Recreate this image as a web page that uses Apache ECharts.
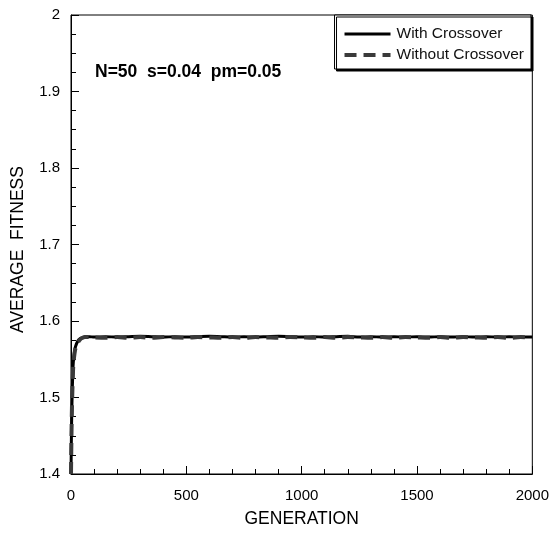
<!DOCTYPE html>
<html>
<head>
<meta charset="utf-8">
<title>Average fitness</title>
<script src="https://cdn.jsdelivr.net/npm/echarts@6/dist/echarts.min.js"></script>
<style>
  html, body { margin: 0; padding: 0; background: #fff; }
  #chart { width: 552px; height: 533px; }
</style>
</head>
<body>
<div id="chart"></div>
<script>
  var generations = [0, 2, 4, 6, 8, 10, 15, 20, 30, 40, 50, 60, 80, 100,
    150, 200, 250, 300, 350, 400, 450, 500, 550, 600, 650, 700, 750, 800, 850, 900, 950, 1000,
    1050, 1100, 1150, 1200, 1250, 1300, 1350, 1400, 1450, 1500, 1550, 1600, 1650, 1700, 1750,
    1800, 1850, 1900, 1950, 2000]

  var withCrossover = [1.400, 1.455, 1.490, 1.515, 1.533, 1.546, 1.560, 1.567, 1.574, 1.577, 1.578, 1.579, 1.5795, 1.5790,
    1.5795, 1.5790, 1.5795, 1.5800, 1.5795, 1.5790, 1.5795, 1.5790, 1.5795, 1.5800, 1.5795, 1.5790, 1.5795, 1.5790, 1.5795, 1.5800, 1.5795, 1.5790,
    1.5795, 1.5790, 1.5795, 1.5800, 1.5790, 1.5795, 1.5790, 1.5795, 1.5790, 1.5795, 1.5790, 1.5795, 1.5790, 1.5795, 1.5790,
    1.5795, 1.5790, 1.5795, 1.5790, 1.5790]

  var withoutCrossover = [1.400, 1.450, 1.485, 1.510, 1.528, 1.542, 1.557, 1.565, 1.572, 1.576, 1.578, 1.579, 1.5790, 1.5785,
    1.5780, 1.5790, 1.5780, 1.5790, 1.5780, 1.5790, 1.5785, 1.5780, 1.5790, 1.5785, 1.5780, 1.5790, 1.5780, 1.5790, 1.5785, 1.5780, 1.5790, 1.5785,
    1.5780, 1.5790, 1.5780, 1.5790, 1.5785, 1.5780, 1.5790, 1.5780, 1.5790, 1.5785, 1.5780, 1.5790, 1.5780, 1.5790, 1.5785,
    1.5780, 1.5790, 1.5780, 1.5790, 1.5785]

  var seriesNames = ['With Crossover', 'Without Crossover']
  var annotation = 'N=50  s=0.04  pm=0.05'

  function pairs(values) {
    return generations.map(function (g, i) { return [g, values[i]] })
  }

  var font = 'Liberation Sans, Arial, sans-serif'
  var chart = echarts.init(document.getElementById('chart'))

  chart.setOption({
    animation: false,
    textStyle: { fontFamily: font, color: '#000' },
    grid: {
      left: 71, top: 15, right: 18, bottom: 55,
      show: true, borderColor: '#000', borderWidth: 1
    },
    legend: {
      data: [
        { name: seriesNames[0], lineStyle: { width: 3, color: '#000' } },
        { name: seriesNames[1], lineStyle: { width: 4, color: '#3a3a3a', type: [12, 7] } }
      ],
      orient: 'vertical',
      right: 21, top: 15,
      padding: [11, 7, 6, 8],
      itemGap: 5,
      itemWidth: 46,
      itemHeight: 14,
      backgroundColor: '#fff',
      borderColor: '#000',
      borderWidth: 1,
      borderRadius: 0,
      shadowColor: '#000',
      shadowBlur: 0,
      shadowOffsetX: 2,
      shadowOffsetY: 2,
      itemStyle: { opacity: 0 }, // hide the circle, keep the line sample
      textStyle: { fontFamily: font, fontSize: 15.5, color: '#111', padding: [0, 0, 0, 1] }
    },
    graphic: [{
      type: 'text',
      left: 95, top: 63,
      style: { text: annotation, font: 'bold 17.5px ' + font, fill: '#000' }
    }],
    xAxis: {
      type: 'value',
      min: 0, max: 2000, interval: 500,
      name: 'GENERATION',
      nameLocation: 'middle',
      nameGap: 36,
      nameTextStyle: { fontSize: 17.5, color: '#000' },
      axisLine: { lineStyle: { color: '#000', width: 1 } },
      axisTick: { inside: true, length: 8, lineStyle: { color: '#000' } },
      minorTick: { show: true, splitNumber: 5, length: 5, lineStyle: { color: '#000' } },
      axisLabel: { fontSize: 15, color: '#000', margin: 14, formatter: function (v) { return String(v) } },
      splitLine: { show: false }
    },
    yAxis: {
      type: 'value',
      min: 1.4, max: 2, interval: 0.1,
      name: 'AVERAGE  FITNESS',
      nameLocation: 'middle',
      nameGap: 44,
      nameTextStyle: { fontSize: 17.5, color: '#000', padding: [0, 10, 0, 0] },
      axisLine: { show: true, lineStyle: { color: '#000', width: 1 } },
      axisTick: { inside: true, length: 8, lineStyle: { color: '#000' } },
      minorTick: { show: true, splitNumber: 4, length: 5, lineStyle: { color: '#000' } },
      axisLabel: { fontSize: 15, color: '#000', margin: 11 },
      splitLine: { show: false }
    },
    series: [
      {
        name: seriesNames[0],
        type: 'line',
        data: pairs(withCrossover),
        symbol: 'none',
        smooth: 0.3,
        lineStyle: { color: '#000', width: 3 },
        itemStyle: { color: '#000' }
      },
      {
        name: seriesNames[1],
        type: 'line',
        data: pairs(withoutCrossover),
        symbol: 'none',
        smooth: 0.3,
        lineStyle: { color: '#3a3a3a', width: 4, type: [12, 7] },
        itemStyle: { color: '#3a3a3a' }
      }
    ]
  })
</script>
</body>
</html>
